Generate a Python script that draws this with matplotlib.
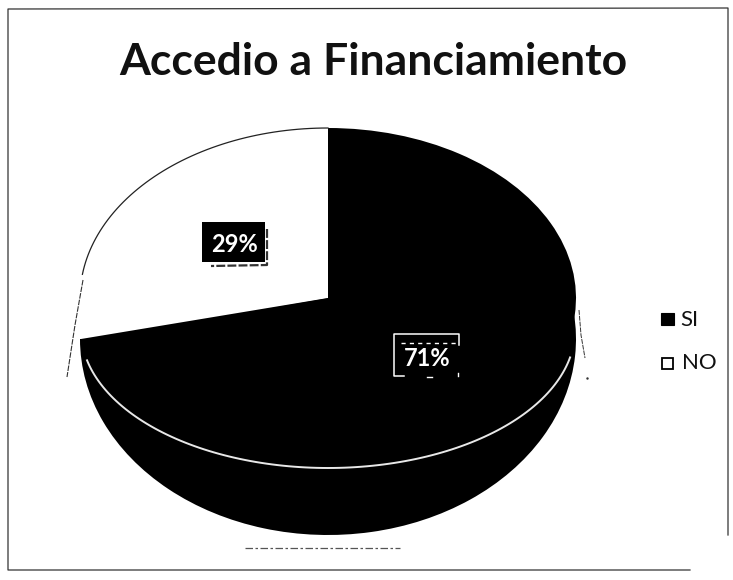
import matplotlib.pyplot as plt
from matplotlib.patches import Rectangle, Wedge
from matplotlib.transforms import Affine2D
import numpy as np

title = "Accedio a Financiamiento"
labels = ['SI', 'NO']
values = [71, 29]

plt.rcParams['font.family'] = ['Lato', 'DejaVu Sans']

fig = plt.figure(figsize=(7.33, 5.8), dpi=100)
ax = fig.add_axes([0, 0, 1, 1])
ax.set_xlim(0, 733)
ax.set_ylim(580, 0)
ax.axis('off')

# scanned frame, it fades out at the bottom right corner
ax.plot([690, 8, 8, 728, 728], [570, 570, 9, 8, 535], color='#333333', lw=0.9)

cx, cy = 328, 298
rx, ry = 248, 170

# wedges on a unit circle, squashed into the tilted ellipse (y flipped)
squash = Affine2D().scale(rx, -ry).translate(cx, cy) + ax.transData
side = Affine2D().scale(rx, -196).translate(cx, 339) + ax.transData
start = 90
total = sum(values)
angles = [v / total * 360 for v in values]
end_si = start - angles[0]

# side of the pie
ax.add_patch(Wedge((0, 0), 1, 180, 380, fc='black', ec='none', transform=side))
ax.add_patch(Wedge((0, 0), 1, end_si, start, fc='black', ec='none', transform=squash))
ax.add_patch(Wedge((0, 0), 1, start, start + angles[1], fc='white', ec='none', transform=squash))
# black corner where the slice meets the side
ax.fill([cx, 81, 90, cx], [cy, 339, 372, 400], color='black', lw=0)

# thin outline of the white slice
t = np.radians(np.linspace(90, 172, 60))
ax.plot(cx + rx * np.cos(t), cy - ry * np.sin(t), color='#222222', lw=0.9)
ax.plot([83, 75, 67], [280, 325, 377], color='#333333', lw=0.8, ls=(0, (5, 1)))
ax.plot([579, 581, 585], [310, 335, 358], color='#333333', lw=0.7, ls=(0, (5, 1)))
ax.plot([587], [378], '.', color='#333333', ms=1.5)

# white rim along the front edge
t = np.linspace(-2.92, -0.2, 120)
ax.plot(cx + 247 * np.cos(t), 330 - 138 * np.sin(t), color='#e8e8e8', lw=1.4)

# scan leftovers under the pie
ax.plot([245, 400], [548, 548], color='#555555', lw=0.9, ls=(0, (6, 2, 2, 2)))

ax.text(373.5, 75, title, fontsize=32, fontweight='bold', color='#111111', ha='center', va='baseline')

# data labels
ax.add_patch(Rectangle((202, 222), 63, 40, fc='black', ec='none'))
ax.plot([267, 267, 211], [229, 265, 266], color='#333333', lw=1.6, ls=(0, (4, 1)))
ax.text(234, 252, '29%', fontsize=17, fontweight='bold', color='white', ha='center', va='baseline')
ax.text(427, 366, '71%', fontsize=17, fontweight='bold', color='white', ha='center', va='baseline')
ax.plot([404, 394, 394, 459, 459], [376, 376, 334, 334, 345], color='white', lw=1.1)
ax.plot([401, 458], [343, 343], color='white', lw=1.0, ls=(0, (3, 3)))
ax.plot([427, 432], [377, 377], color='white', lw=1.0)
ax.plot([458, 458], [373, 376], color='white', lw=1.0)

# legend
ax.add_patch(Rectangle((661, 313), 13, 12, fc='black', ec='black', lw=0.8))
ax.add_patch(Rectangle((662, 358), 11, 11, fc='white', ec='black', lw=1.3))
ax.text(680, 326, labels[0], fontsize=16, color='#111111', va='baseline')
ax.text(682, 369, labels[1], fontsize=16, color='#111111', va='baseline')

fig.savefig('out.png', dpi=100)
